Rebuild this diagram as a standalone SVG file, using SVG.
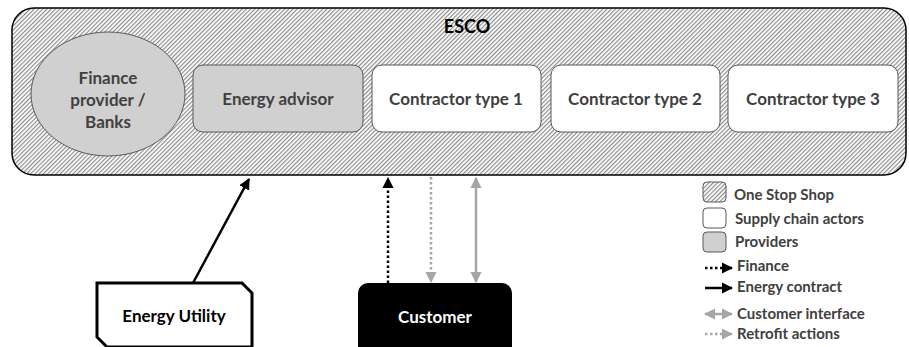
<svg xmlns="http://www.w3.org/2000/svg" width="909" height="347" viewBox="0 0 909 347">
<defs>
<pattern id="hatch" width="3" height="3" patternUnits="userSpaceOnUse" patternTransform="rotate(45)">
<rect width="3" height="3" fill="#ffffff"/>
<line x1="0.6" y1="0" x2="0.6" y2="3" stroke="#8c8c8c" stroke-width="1.2"/>
</pattern>
<marker id="ahBlack" viewBox="0 0 10 10" refX="9" refY="5" markerWidth="4.5" markerHeight="4.5" orient="auto-start-reverse" markerUnits="strokeWidth">
<path d="M0,0 L10,5 L0,10 z" fill="#000"/>
</marker>
<marker id="ahGray" viewBox="0 0 10 10" refX="9" refY="5" markerWidth="4.5" markerHeight="4.5" orient="auto-start-reverse" markerUnits="strokeWidth">
<path d="M0,0 L10,5 L0,10 z" fill="#a6a6a6"/>
</marker>
</defs>
<style>
.t { font-family: Lato, "Liberation Sans", sans-serif; font-weight: bold; text-anchor: middle; }
.node { fill: #404040; font-size: 17px; }
.leg { font-family: Lato, "Liberation Sans", sans-serif; font-weight: bold; fill: #404040; font-size: 15px; }
.prov { fill: #d0d0d0; stroke: #595959; stroke-width: 1; }
.sup { fill: #ffffff; stroke: #595959; stroke-width: 1; }
.fin { stroke: #000; stroke-width: 2.5; stroke-dasharray: 2.5 2.5; fill: none; }
.ec { stroke: #000; stroke-width: 2.5; fill: none; }
.ci { stroke: #a6a6a6; stroke-width: 2.5; fill: none; }
.ra { stroke: #a6a6a6; stroke-width: 2.5; stroke-dasharray: 2.5 2.5; fill: none; }
</style>
<rect width="909" height="347" fill="#ffffff"/>

<g id="esco">
<rect x="12" y="8" width="894" height="167" rx="22" ry="22" fill="url(#hatch)" stroke="#000" stroke-width="1.5"/>
<text class="t" x="467" y="33" font-size="18" fill="#000">ESCO</text>
</g>

<g id="finance-provider">
<ellipse class="prov" cx="108" cy="94" rx="77" ry="62"/>
<text class="t node" x="108" y="84" font-size="18">Finance</text>
<text class="t node" x="108" y="106" font-size="18">provider /</text>
<text class="t node" x="108" y="128" font-size="18">Banks</text>
</g>

<g id="energy-advisor">
<rect class="prov" x="193" y="65" width="170" height="67" rx="10" ry="10"/>
<text class="t node" x="278" y="105">Energy advisor</text>
</g>

<g id="contractor-1">
<rect class="sup" x="372" y="65" width="169" height="67" rx="10" ry="10"/>
<text class="t node" x="456" y="105">Contractor type 1</text>
</g>

<g id="contractor-2">
<rect class="sup" x="551" y="65" width="169" height="67" rx="10" ry="10"/>
<text class="t node" x="635" y="105">Contractor type 2</text>
</g>

<g id="contractor-3">
<rect class="sup" x="728" y="65" width="170" height="67" rx="10" ry="10"/>
<text class="t node" x="813" y="105">Contractor type 3</text>
</g>

<g id="energy-utility">
<polygon points="97,283 242,283 252,293 252,347 107,347 97,337" fill="#ffffff" stroke="#000" stroke-width="3"/>
<text class="t" x="174" y="322" font-size="17" fill="#000">Energy Utility</text>
</g>

<g id="customer">
<rect x="358" y="283" width="154" height="80" rx="10" ry="10" fill="#000"/>
<text class="t" x="435" y="323" font-size="17" fill="#ffffff">Customer</text>
</g>

<g id="connectors">
<line class="ec" x1="193" y1="283" x2="249" y2="179" marker-end="url(#ahBlack)"/>
<line class="fin" x1="388" y1="283" x2="388" y2="178" marker-end="url(#ahBlack)"/>
<line class="ra" x1="431" y1="177" x2="431" y2="282" marker-end="url(#ahGray)"/>
<line class="ci" x1="476" y1="178" x2="476" y2="282" marker-start="url(#ahGray)" marker-end="url(#ahGray)"/>
</g>

<g id="legend">
<rect x="703" y="182" width="23" height="20" rx="4" fill="url(#hatch)" stroke="#595959" stroke-width="1"/>
<text class="leg" x="734" y="200">One Stop Shop</text>
<rect x="703" y="208" width="23" height="20" rx="4" fill="#ffffff" stroke="#595959" stroke-width="1"/>
<text class="leg" x="735" y="224">Supply chain actors</text>
<rect x="703" y="232" width="23" height="20" rx="4" fill="#d0d0d0" stroke="#595959" stroke-width="1"/>
<text class="leg" x="735" y="247">Providers</text>
<line class="fin" x1="705" y1="268" x2="732" y2="268" stroke-width="2" marker-end="url(#ahBlack)"/>
<text class="leg" x="737" y="271">Finance</text>
<line class="ec" x1="705" y1="288" x2="732" y2="288" stroke-width="2" marker-end="url(#ahBlack)"/>
<text class="leg" x="737" y="292">Energy contract</text>
<line class="ci" x1="705" y1="314" x2="732" y2="314" stroke-width="2" marker-start="url(#ahGray)" marker-end="url(#ahGray)"/>
<text class="leg" x="737" y="319">Customer interface</text>
<line class="ra" x1="705" y1="334" x2="732" y2="334" stroke-width="2" marker-end="url(#ahGray)"/>
<text class="leg" x="737" y="339">Retrofit actions</text>
</g>
</svg>
